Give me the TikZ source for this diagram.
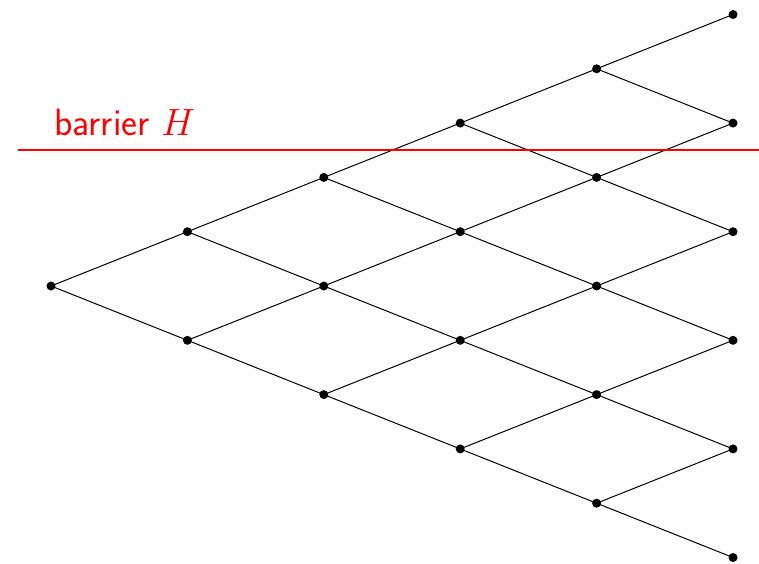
\documentclass[tikz,border=0pt]{standalone}
\usepackage{fix-cm}
\begin{document}
\begin{tikzpicture}[x=1pt,y=-1pt,
  vertex/.style={circle,fill=black,inner sep=0pt,minimum size=9pt},
  edge/.style={draw=black,line width=1pt},
  barrierline/.style={draw=red,line width=1.5pt},
  barrierlabel/.style={text=red,font=\fontsize{38}{44}\selectfont\sffamily,inner sep=0pt,anchor=base west}]
\useasboundingbox (0,0) rectangle (759,563);
% lattice nodes: step i, level j
\foreach \i in {0,...,5}{
  \foreach \j in {0,...,\i}{
    \node[vertex] (n-\i-\j) at ({51+136.4*\i},{286+54.3*(2*\j-\i)}) {};
  }
}
% up and down moves
\foreach \i [evaluate=\i as \k using int(\i+1)] in {0,...,4}{
  \foreach \j [evaluate=\j as \m using int(\j+1)] in {0,...,\i}{
    \draw[edge] (n-\i-\j.center) -- (n-\k-\j.center);
    \draw[edge] (n-\i-\j.center) -- (n-\k-\m.center);
  }
}
% barrier
\coordinate (bl) at (18,150);
\coordinate (br) at (759,150);
\draw[barrierline] (bl) -- (br);
\node[barrierlabel] (lab) at (54,135) {barrier $H$};
\end{tikzpicture}
\end{document}
